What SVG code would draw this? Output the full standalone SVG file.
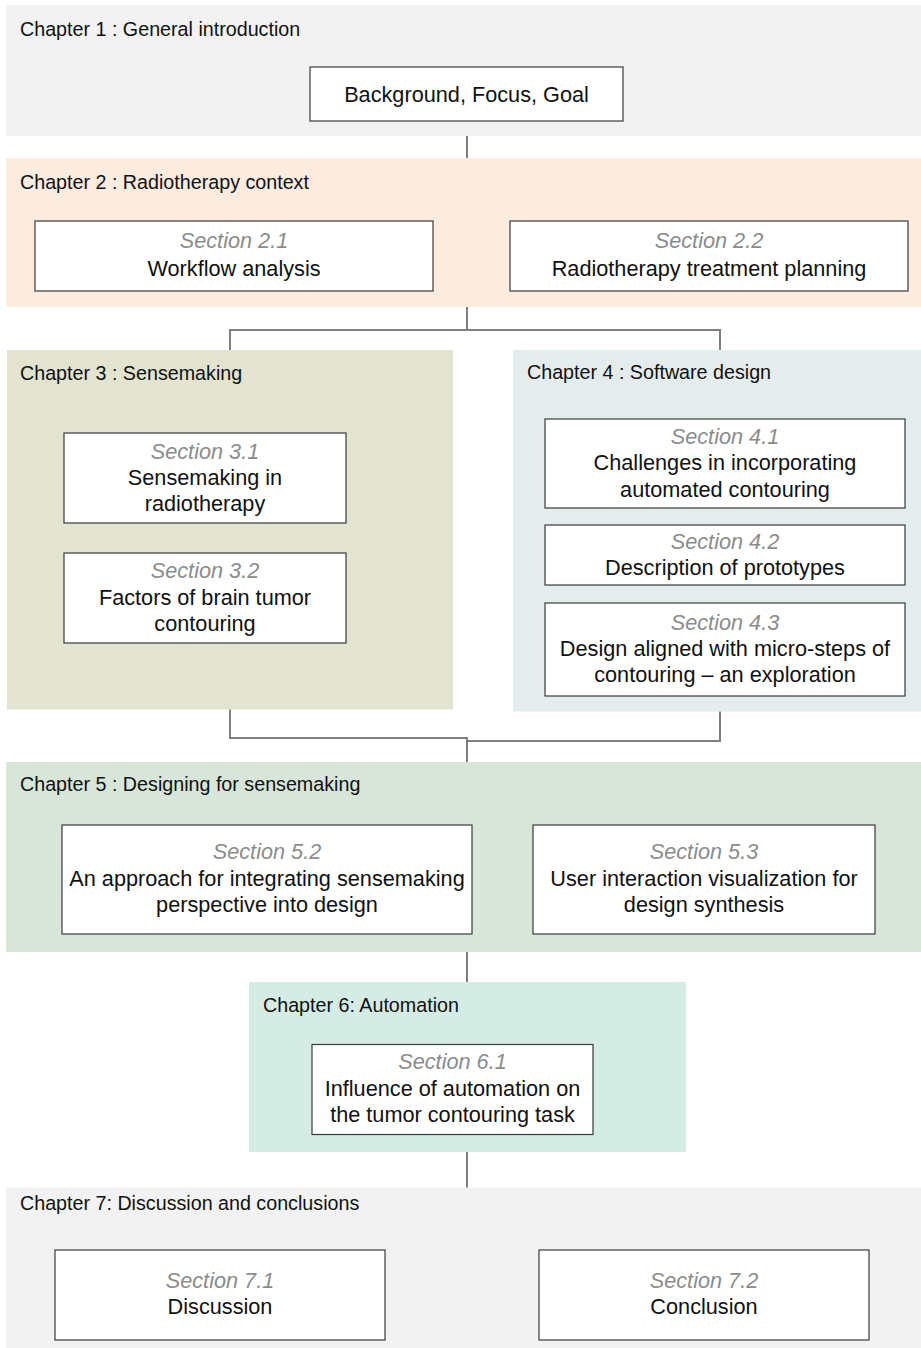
<svg xmlns="http://www.w3.org/2000/svg" width="921" height="1348" viewBox="0 0 921 1348">
<style>
.bg{stroke:none}
.box{fill:#ffffff;stroke:#3a3a3a;stroke-width:1.2}
.ch{font-family:"Liberation Sans",Arial,sans-serif;font-size:19.7px;fill:#111111}
.t{font-family:"Liberation Sans",Arial,sans-serif;font-size:21.7px;fill:#111111;text-anchor:middle}
.s{font-style:italic;fill:#8c8c8c}
.conn{fill:none;stroke:#7f7f7f;stroke-width:2}
</style>
<rect width="921" height="1348" fill="#ffffff"/>
<g id="chapter1">
<rect class="bg" x="6" y="5" width="915" height="131" fill="#f2f2f2"/>
<text class="ch" x="20" y="35.5">Chapter 1 : General introduction</text>
</g>
<g id="chapter2">
<rect class="bg" x="6" y="158" width="915" height="149" fill="#fcebdf"/>
<text class="ch" x="20" y="188.5">Chapter 2 : Radiotherapy context</text>
</g>
<g id="chapter3">
<rect class="bg" x="7" y="350" width="446" height="359.5" fill="#e2e4d0"/>
<text class="ch" x="20" y="380">Chapter 3 : Sensemaking</text>
</g>
<g id="chapter4">
<rect class="bg" x="513" y="350" width="408" height="361.5" fill="#e4ecee"/>
<text class="ch" x="527" y="379">Chapter 4 : Software design</text>
</g>
<g id="chapter5">
<rect class="bg" x="6" y="762" width="915" height="190" fill="#d7e6d9"/>
<text class="ch" x="20" y="791">Chapter 5 : Designing for sensemaking</text>
</g>
<g id="chapter6">
<rect class="bg" x="249" y="982" width="437" height="170" fill="#d5ece5"/>
<text class="ch" x="263" y="1012">Chapter 6: Automation</text>
</g>
<g id="chapter7">
<rect class="bg" x="6" y="1187.5" width="915" height="160.5" fill="#f2f2f2"/>
<text class="ch" x="20" y="1209.5">Chapter 7: Discussion and conclusions</text>
</g>
<g id="connectors">
<path class="conn" d="M467 136 V158"/>
<path class="conn" d="M467 307 V330"/>
<path class="conn" d="M230 350 V330 H720 V350"/>
<path class="conn" d="M230 709.5 V738 H467 V762"/>
<path class="conn" d="M720 711.5 V741 H467"/>
<path class="conn" d="M467 952 V982"/>
<path class="conn" d="M467 1152 V1187.5"/>
</g>
<g id="intro">
<rect class="box" x="310" y="67" width="313" height="54"/>
<text class="t" x="466.5" y="101.5">Background, Focus, Goal</text>
</g>
<g id="s2_1">
<rect class="box" x="35" y="221" width="398" height="70"/>
<text class="t s" x="234" y="248">Section 2.1</text>
<text class="t" x="234" y="275.7">Workflow analysis</text>
</g>
<g id="s2_2">
<rect class="box" x="510" y="221" width="398" height="70"/>
<text class="t s" x="709" y="248">Section 2.2</text>
<text class="t" x="709" y="275.7">Radiotherapy treatment planning</text>
</g>
<g id="s3_1">
<rect class="box" x="64" y="433" width="282" height="90"/>
<text class="t s" x="205" y="459">Section 3.1</text>
<text class="t" x="205" y="485">Sensemaking in</text>
<text class="t" x="205" y="510.5">radiotherapy</text>
</g>
<g id="s3_2">
<rect class="box" x="64" y="553" width="282" height="90"/>
<text class="t s" x="205" y="578">Section 3.2</text>
<text class="t" x="205" y="604.5">Factors of brain tumor</text>
<text class="t" x="205" y="630.5">contouring</text>
</g>
<g id="s4_1">
<rect class="box" x="545" y="419" width="360" height="89"/>
<text class="t s" x="725" y="443.5">Section 4.1</text>
<text class="t" x="725" y="470">Challenges in incorporating</text>
<text class="t" x="725" y="496.5">automated contouring</text>
</g>
<g id="s4_2">
<rect class="box" x="545" y="525" width="360" height="60"/>
<text class="t s" x="725" y="548.5">Section 4.2</text>
<text class="t" x="725" y="575">Description of prototypes</text>
</g>
<g id="s4_3">
<rect class="box" x="545" y="603" width="360" height="93"/>
<text class="t s" x="725" y="629.5">Section 4.3</text>
<text class="t" x="725" y="656">Design aligned with micro-steps of</text>
<text class="t" x="725" y="682">contouring – an exploration</text>
</g>
<g id="s5_2">
<rect class="box" x="62" y="825" width="410" height="109"/>
<text class="t s" x="267" y="859">Section 5.2</text>
<text class="t" x="267" y="886">An approach for integrating sensemaking</text>
<text class="t" x="267" y="912">perspective into design</text>
</g>
<g id="s5_3">
<rect class="box" x="533" y="825" width="342" height="109"/>
<text class="t s" x="704" y="859">Section 5.3</text>
<text class="t" x="704" y="886">User interaction visualization for</text>
<text class="t" x="704" y="912">design synthesis</text>
</g>
<g id="s6_1">
<rect class="box" x="312" y="1044.5" width="281" height="90"/>
<text class="t s" x="452.5" y="1069">Section 6.1</text>
<text class="t" x="452.5" y="1096">Influence of automation on</text>
<text class="t" x="452.5" y="1121.5">the tumor contouring task</text>
</g>
<g id="s7_1">
<rect class="box" x="55" y="1250" width="330" height="90"/>
<text class="t s" x="220" y="1288">Section 7.1</text>
<text class="t" x="220" y="1313.5">Discussion</text>
</g>
<g id="s7_2">
<rect class="box" x="539" y="1250" width="330" height="90"/>
<text class="t s" x="704" y="1288">Section 7.2</text>
<text class="t" x="704" y="1313.5">Conclusion</text>
</g>
</svg>
